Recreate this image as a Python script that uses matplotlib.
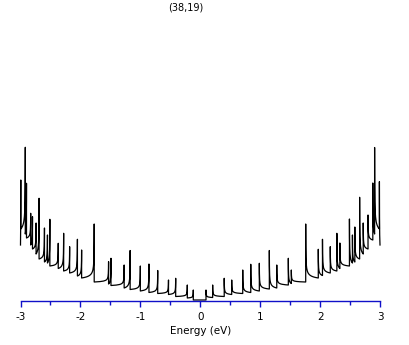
import numpy as np
import matplotlib
matplotlib.use("Agg")
import matplotlib.pyplot as plt

plt.rcParams['axes.unicode_minus'] = False
plt.rcParams['font.family'] = ['DejaVu Sans']

title = "(38,19)"
xlabel = "Energy (eV)"
major_ticks = [-3, -2, -1, 0, 1, 2, 3]
minor_ticks = [-2.5, -1.5, -0.5, 0.5, 1.5, 2.5]

# Van Hove singularities, E > 0 side (eV), peak DOS and DOS just before each (arb. units)
right_E = [0.096, 0.207, 0.40, 0.525, 0.709, 0.843, 0.986, 1.153, 1.277, 1.47, 1.52, 1.76,
           1.97, 2.04, 2.17, 2.28, 2.33, 2.49, 2.54, 2.58, 2.66, 2.72, 2.80, 2.88, 2.91, 2.99]
right_peak = [0.107, 0.157, 0.224, 0.207, 0.307, 0.364, 0.374, 0.502, 0.357, 0.424, 0.307, 0.767,
              0.514, 0.614, 0.540, 0.674, 0.577, 0.817, 0.657, 0.737, 1.034, 0.777, 0.857, 1.177, 1.532, 1.190]
right_trough = [0.007, 0.032, 0.042, 0.062, 0.072, 0.082, 0.097, 0.117, 0.127, 0.157, 0.172, 0.187,
                0.227, 0.252, 0.277, 0.297, 0.322, 0.347, 0.377, 0.387, 0.417, 0.467, 0.517, 0.607, 0.667, 0.717]
right_end = 0.557

# E < 0 side, ordered from the centre outward
left_E = [-0.116, -0.216, -0.41, -0.53, -0.71, -0.856, -1.0, -1.17, -1.27, -1.49, -1.53, -1.77,
          -1.98, -2.05, -2.18, -2.28, -2.37, -2.51, -2.55, -2.60, -2.69, -2.74, -2.80, -2.83,
          -2.90, -2.92, -2.995]
left_peak = [0.107, 0.157, 0.224, 0.207, 0.302, 0.367, 0.347, 0.502, 0.357, 0.424, 0.390, 0.767,
             0.507, 0.614, 0.540, 0.674, 0.574, 0.814, 0.657, 0.727, 1.024, 0.777, 0.840, 0.874,
             1.174, 1.534, 1.207]
left_trough = [0.007, 0.027, 0.042, 0.062, 0.072, 0.082, 0.097, 0.112, 0.127, 0.152, 0.167, 0.187,
               0.227, 0.247, 0.277, 0.297, 0.322, 0.347, 0.377, 0.387, 0.417, 0.467, 0.517, 0.557,
               0.627, 0.667, 0.717]
left_end = 0.557


def branch(E, peak, trough, end, sign, w=0.001):
    xs, ys = [0.0], [trough[0]]
    n = len(E)
    for i in range(n):
        xs += [E[i], E[i]]
        ys += [trough[i], peak[i]]
        nxt = E[i + 1] if i + 1 < n else sign * 3.0
        target = trough[i + 1] if i + 1 < n else end
        T = abs(nxt - E[i])
        t = np.geomspace(1e-5, T, 40)
        g0 = np.sqrt(w / (T + w))
        g = (np.sqrt(w / (t + w)) - g0) / (1 - g0)
        xs += list(E[i] + sign * t)
        ys += list(target + (peak[i] - target) * g)
    return np.array(xs), np.array(ys)


xr, yr = branch(right_E, right_peak, right_trough, right_end, 1)
xl, yl = branch(left_E, left_peak, left_trough, left_end, -1)
x = np.concatenate([xl[::-1], xr])
y = np.concatenate([yl[::-1], yr])

W, H = 409, 345
fig = plt.figure(figsize=(W / 100, H / 100), dpi=100)
ax_left, ax_right = 20.5, 380.0
ax_bottom, ax_top = 300.7, 20.0
ax = fig.add_axes([ax_left / W, 1 - ax_bottom / H, (ax_right - ax_left) / W, (ax_bottom - ax_top) / H])

ax.plot(x, y, color='black', lw=0.9, clip_on=False)
ax.set_xlim(-3, 3)
ax.set_ylim(0, (ax_bottom - ax_top) / 100)

for s in ['top', 'right', 'left']:
    ax.spines[s].set_visible(False)
ax.spines['bottom'].set_color('#1010c8')
ax.spines['bottom'].set_linewidth(1.0)
ax.set_yticks([])
ax.set_xticks(major_ticks)
ax.set_xticks(minor_ticks, minor=True)
ax.set_xticklabels([str(v) for v in major_ticks])
ax.tick_params(axis='x', which='major', direction='out', length=4.5, width=1.0,
               color='#1010c8', labelsize=7.5, pad=3.5, labelcolor='black')
ax.tick_params(axis='x', which='minor', direction='out', length=3.2, width=1.0, color='#1010c8')
ax.set_xlabel(xlabel, fontsize=7.5)
ax.xaxis.set_label_coords(0.5, -(331 - ax_bottom) / (ax_bottom - ax_top))
ax.xaxis.label.set_va('center')

fig.text(185.6 / W, 1 - 7.5 / H, title, ha='center', va='center', fontsize=7)

fig.savefig('out.png', dpi=100, facecolor='white')
